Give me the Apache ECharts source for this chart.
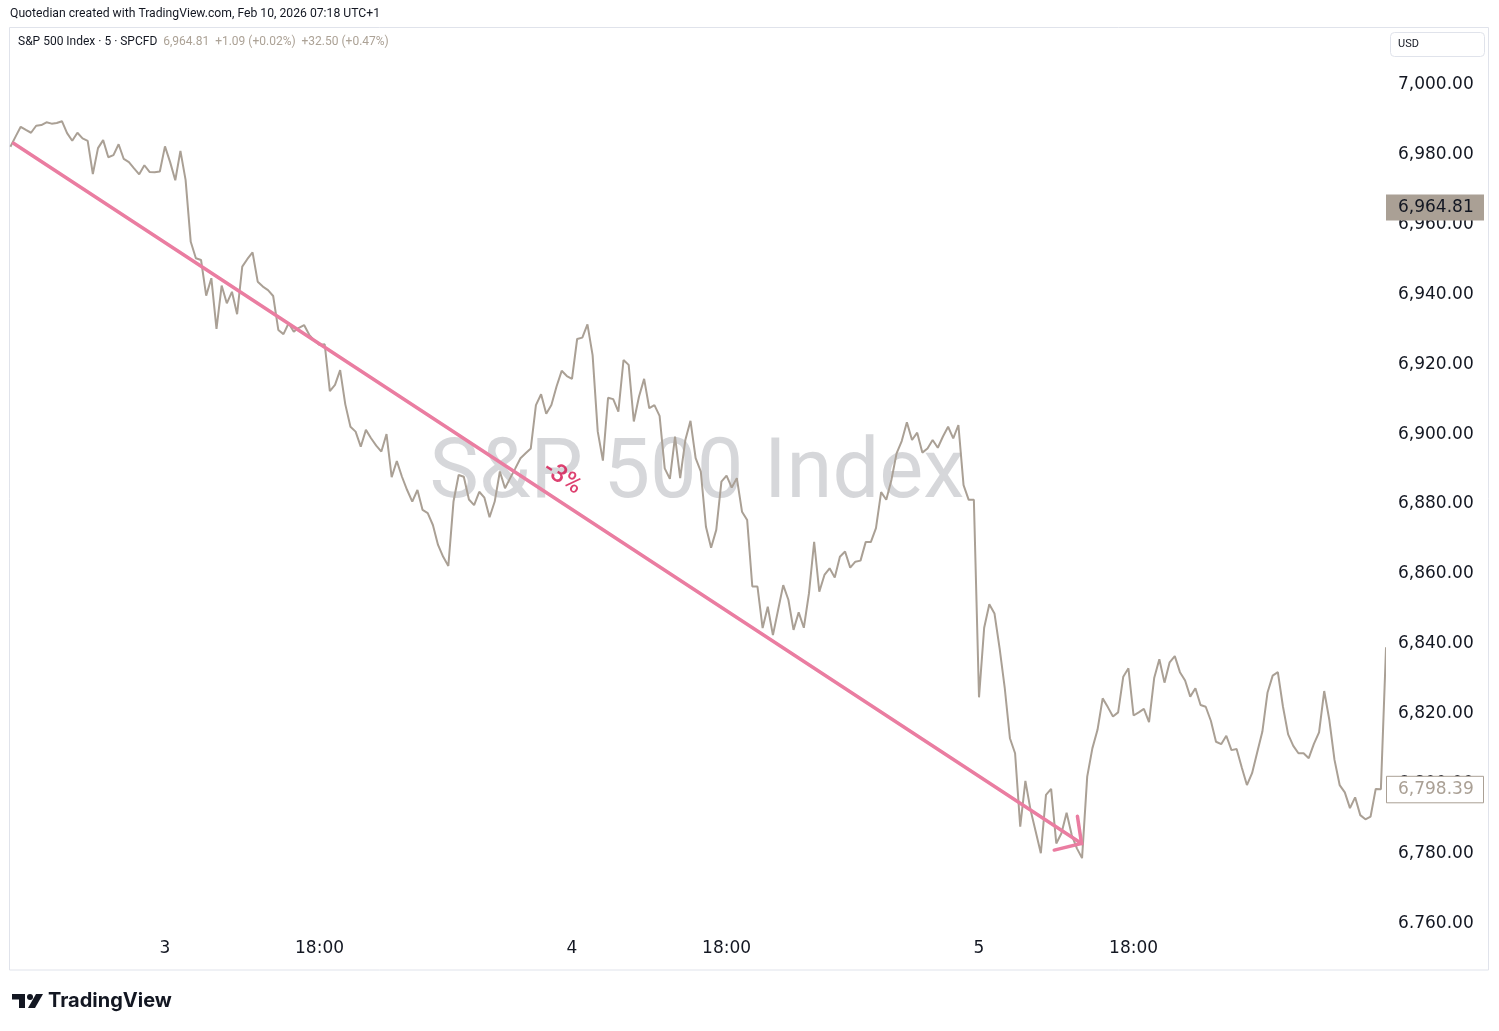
<!DOCTYPE html>
<html>
<head>
<meta charset="utf-8">
<script src="https://cdn.jsdelivr.net/npm/echarts@6/dist/echarts.min.js"></script>
<style>
html,body{margin:0;padding:0;background:#fff;}
#chart{width:1499px;height:1031px;}
</style>
</head>
<body>
<div id="chart"></div>
<script>
// 5-minute bars of SPCFD (S&P 500 Index), session 15:30-22:00 UTC+1 (79 bars/day)
const feb2 = [6982.2,6985.1,6987.9,6987.0,6986.2,6988.2,6988.4,6989.2,6988.8,6989.0,
  6989.5,6986.1,6983.9,6986.2,6984.6,6983.9,6974.4,6981.8,6984.1,6979.2,
  6979.8,6982.9,6978.7,6977.8,6976.0,6974.3,6976.9,6975.0,6974.9,6975.1];
const feb3 = [6982.3,6977.8,6972.6,6981.0,6972.7,6955.0,6950.3,6949.8,6939.6,6944.6,
  6930.1,6942.5,6937.4,6940.7,6934.3,6947.9,6950.1,6952.0,6943.6,6942.2,
  6941.2,6939.5,6929.8,6928.6,6931.7,6929.3,6930.4,6931.2,6928.4,6926.7,
  6925.5,6925.7,6912.3,6914.1,6918.3,6908.5,6902.1,6900.7,6896.4,6901.2,
  6898.8,6896.7,6895.0,6900.0,6887.7,6892.3,6887.8,6884.0,6880.7,6884.0,
  6878.3,6877.4,6874.0,6868.3,6864.9,6862.3,6880.7,6888.3,6887.8,6881.3,
  6879.7,6883.5,6881.8,6876.2,6880.7,6889.3,6884.5,6887.4,6890.2,6893.1,
  6894.5,6895.9,6908.3,6911.4,6905.8,6908.3,6913.6,6918.1,6916.6];
const feb4 = [6915.8,6927.2,6927.6,6931.4,6922.6,6900.7,6892.4,6910.4,6910.0,6906.4,
  6921.2,6919.8,6903.6,6910.7,6915.8,6907.4,6908.3,6905.2,6890.2,6887.2,
  6899.3,6887.4,6898.3,6903.8,6893.1,6889.3,6873.5,6867.5,6872.6,6886.4,
  6888.1,6884.7,6887.4,6877.8,6875.4,6856.4,6856.4,6844.5,6850.6,6842.5,
  6849.7,6856.8,6852.6,6844.0,6849.0,6844.6,6854.5,6869.2,6854.9,6859.7,
  6861.6,6859.0,6864.9,6866.4,6861.8,6863.5,6863.8,6869.1,6869.1,6873.1,
  6883.4,6881.2,6886.9,6894.5,6898.0,6903.4,6898.3,6900.4,6894.7,6895.9,
  6898.3,6896.1,6899.3,6902.1,6898.8,6902.6,6885.4,6881.2,6881.2];
const feb5 = [6824.7,6844.6,6851.3,6848.7,6838.7,6827.3,6813.0,6808.7,6787.7,6800.8,
  6792.5,6786.3,6780.1,6796.8,6798.5,6782.9,6785.8,6791.7,6785.3,6781.5,
  6778.7,6802.0,6810.1,6815.4,6824.4,6821.9,6819.2,6820.4,6830.6,6833.0,
  6819.5,6820.4,6821.4,6817.6,6830.2,6835.6,6828.9,6834.7,6836.5,6831.9,
  6829.5,6824.9,6827.3,6822.5,6822.0,6818.0,6812.0,6811.3,6813.7,6809.6,
  6809.9,6804.6,6799.6,6803.0,6809.0,6814.9,6826.1,6830.9,6831.9,6822.0,
  6814.1,6810.8,6808.7,6808.7,6807.3,6811.4,6814.7,6826.5,6818.2,6806.8,
  6799.6,6797.5,6793.0,6796.1,6791.0,6789.8,6790.6,6798.5,6798.39];
const feb6 = [6839.0];

const timeTickIdx = [30, 60, 109, 139, 188, 218];
const timeTickLabels = ['3', '18:00', '4', '18:00', '5', '18:00'];
const priceTicks = [6760, 6780, 6800, 6820, 6840, 6860, 6880, 6900, 6920, 6940, 6960, 6980, 7000];

const lastPrice = 6964.81;
const closePrice = 6798.39;

// trend-line drawing (bar index, price)
const trendLine = [[0.6, 6983.2], [207.9, 6782.9]];
const trendArrow = [[202.6, 6781.0], [207.9, 6782.9], [207.1, 6790.7]];
const trendLabel = [[107.1, 6887.4, '-3%']];

const prices = [].concat(feb2, feb3, feb4, feb5, feb6);
const priceData = prices.map((v, i) => [i, v]);

const LINE = '#aaa095';
const PINK = '#ea7da1';
const fmt = v => v.toLocaleString('en-US', {minimumFractionDigits: 2, maximumFractionDigits: 2});
const AXFONT = 'DejaVu Sans';

const chart = echarts.init(document.getElementById('chart'), null, {renderer: 'canvas'});
chart.setOption({
  animation: false,
  backgroundColor: '#ffffff',
  grid: {left: 10, right: 114, top: 27, bottom: 99, show: false},
  xAxis: {
    type: 'value', min: -0.08, max: 266.8,
    axisLine: {show: false}, axisTick: {show: false}, splitLine: {show: false},
    axisLabel: {
      customValues: timeTickIdx,
      margin: 8,
      color: '#131722', fontSize: 17, fontFamily: AXFONT,
      formatter: v => timeTickLabels[timeTickIdx.indexOf(Math.round(v))] || ''
    }
  },
  yAxis: {
    type: 'value', position: 'right', min: 6757.57, max: 7016.45, scale: true,
    axisLine: {show: false}, axisTick: {show: false}, splitLine: {show: false},
    axisLabel: {
      customValues: priceTicks,
      margin: 13, color: '#131722', fontSize: 17, fontFamily: AXFONT,
      padding: [6, 0, 0, 0],
      formatter: v => fmt(v)
    }
  },
  series: [
    {
      type: 'line', name: 'SPX', data: priceData, showSymbol: false, symbol: 'none',
      lineStyle: {color: LINE, width: 2}, z: 3, clip: true
    },
    {
      type: 'line', data: trendLine, showSymbol: false, symbol: 'none', z: 5,
      lineStyle: {color: PINK, width: 3.5, cap: 'round'}
    },
    {
      type: 'line', data: trendArrow, showSymbol: false, symbol: 'none', z: 5,
      lineStyle: {color: PINK, width: 3.5, cap: 'round', join: 'miter'}
    },
    {
      type: 'scatter', data: trendLabel, symbolSize: 1, z: 6,
      itemStyle: {color: 'rgba(0,0,0,0)'},
      label: {show: true, position: 'inside', rotate: -33,
        formatter: p => p.data[2], color: '#d4124c', fontSize: 25, fontWeight: 500,
        fontFamily: 'Roboto'}
    }
  ]
});

const yLast = chart.convertToPixel({yAxisIndex: 0}, lastPrice);
const yClose = chart.convertToPixel({yAxisIndex: 0}, closePrice);

chart.setOption({
  graphic: [
    {type: 'rect', z: -10, shape: {x: 9.5, y: 27.5, width: 1479, height: 942.5},
     style: {fill: 'none', stroke: '#e0e3eb', lineWidth: 1}},
    {type: 'text', z: -5, x: 697, y: 476,
     style: {text: 'S&P 500 Index', font: '83px Roboto', fill: 'rgba(120,123,134,0.30)',
             textAlign: 'center', textVerticalAlign: 'middle'}},
    {type: 'text', x: 10, y: 14,
     style: {text: 'Quotedian created with TradingView.com, Feb 10, 2026 07:18 UTC+1',
             font: '12.2px Roboto', fill: '#131722', textVerticalAlign: 'middle'}},
    {type: 'text', x: 18, y: 42,
     style: {text: '{a|S&P 500 Index · 5 · SPCFD}{b|  6,964.81  +1.09 (+0.02%)  +32.50 (+0.47%)}',
             textVerticalAlign: 'middle',
             rich: {a: {font: '12px Roboto', fill: '#131722'},
                    b: {font: '12px Roboto', fill: '#aca296'}}}},
    {type: 'rect', shape: {x: 1390.5, y: 32.5, width: 94, height: 24, r: 4},
     style: {fill: '#fff', stroke: '#e0e3eb', lineWidth: 1}},
    {type: 'text', x: 1398, y: 44.5,
     style: {text: 'USD', font: '11px Roboto', fill: '#131722', textVerticalAlign: 'middle'}},
    {type: 'rect', z: 50, shape: {x: 1386, y: 928, width: 102, height: 14},
     style: {fill: '#fff'}},
    // last price box
    {type: 'rect', z: 60, shape: {x: 1386, y: yLast - 13, width: 98, height: 26},
     style: {fill: '#aaa095'}},
    {type: 'text', z: 61, x: 1398, y: yLast,
     style: {text: fmt(lastPrice), font: '17px "DejaVu Sans"', fill: '#131722', textVerticalAlign: 'middle'}},
    // close box
    {type: 'rect', z: 60, shape: {x: 1386.5, y: yClose - 13, width: 97, height: 26.5},
     style: {fill: '#ffffff', stroke: '#aaa095', lineWidth: 1}},
    {type: 'text', z: 61, x: 1398, y: yClose + 0.5,
     style: {text: fmt(closePrice), font: '17px "DejaVu Sans"', fill: '#aaa095', textVerticalAlign: 'middle'}},
    // TradingView logo
    {type: 'group', children: [
      {type: 'rect', shape: {x: 12, y: 994, width: 13, height: 5.5}, style: {fill: '#131722'}},
      {type: 'rect', shape: {x: 19, y: 994, width: 6, height: 14}, style: {fill: '#131722'}},
      {type: 'circle', shape: {cx: 30, cy: 997, r: 3}, style: {fill: '#131722'}},
      {type: 'polygon', shape: {points: [[36, 994], [43, 994], [35, 1008], [28, 1008]]}, style: {fill: '#131722'}}
    ]},
    {type: 'text', x: 48, y: 1001,
     style: {text: 'TradingView', font: 'bold 20px Inter', fill: '#131722', textVerticalAlign: 'middle'}}
  ]
});
</script>
</body>
</html>
